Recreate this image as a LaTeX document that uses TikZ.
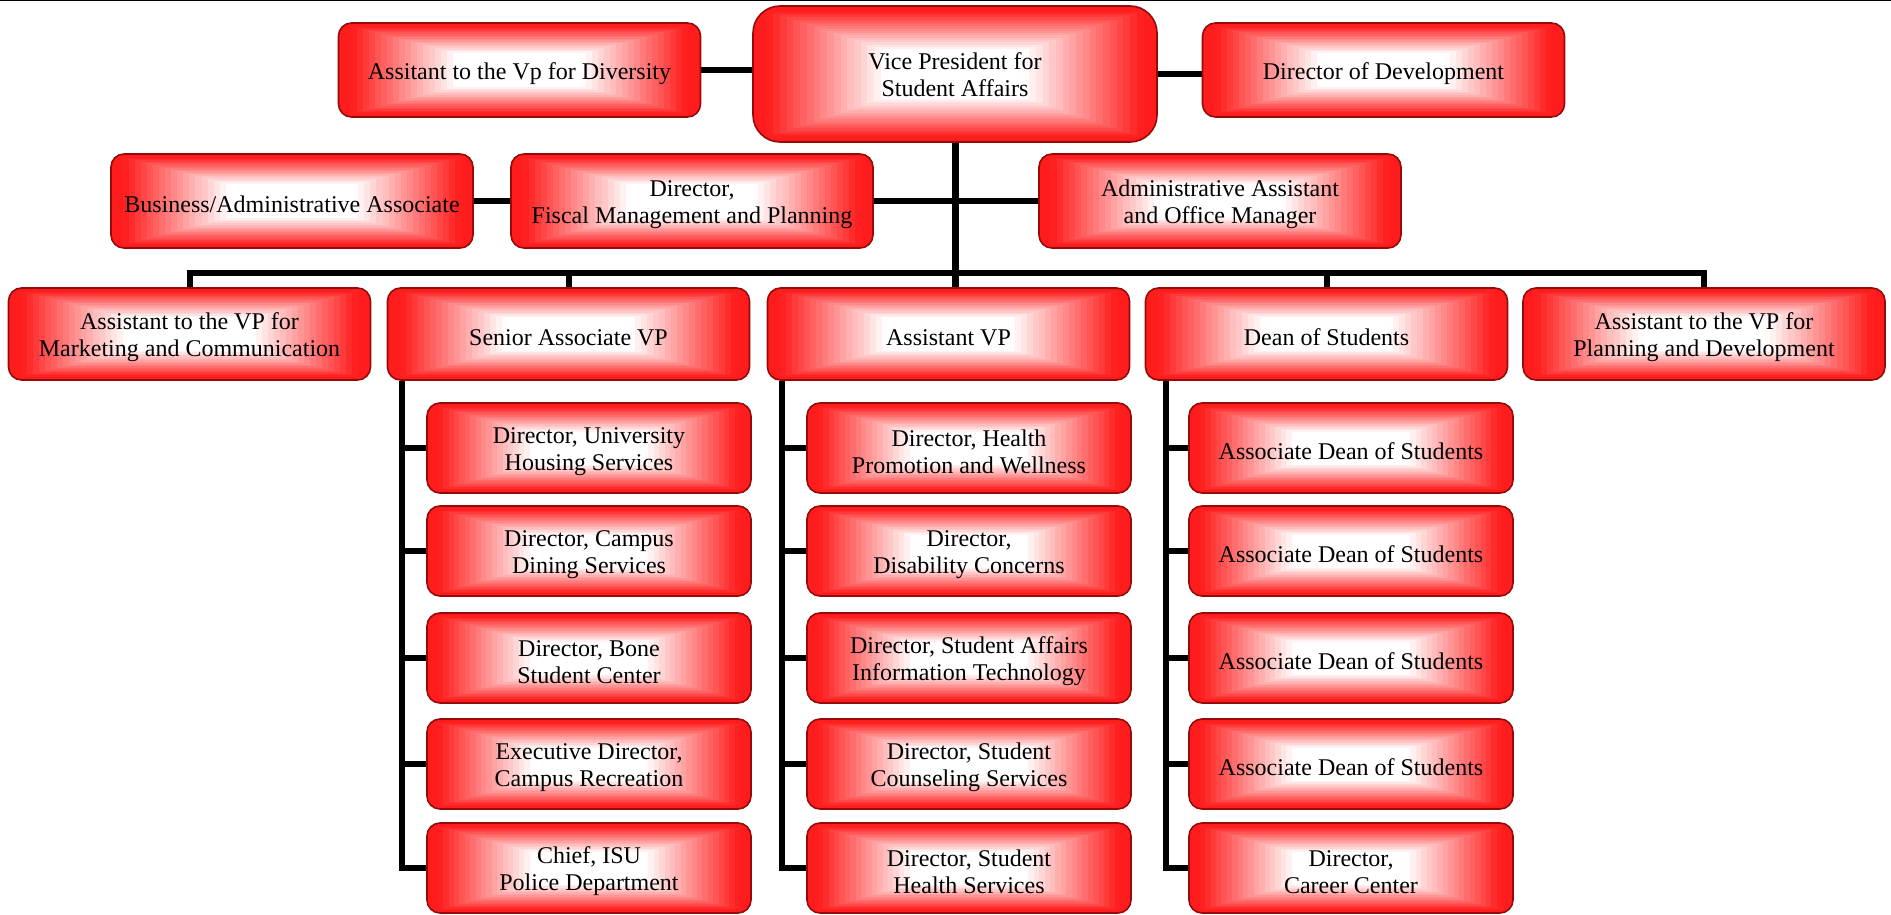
\documentclass[tikz,border=0pt]{standalone}
\usepackage{fontspec}
\setmainfont{Liberation Serif}
\usetikzlibrary{calc,backgrounds}
\definecolor{boxred}{RGB}{255,28,28}
\definecolor{boxborder}{RGB}{150,10,10}
\newcommand\orgshade{%
  \foreach \i in {0,...,29}{%
    \pgfmathtruncatemacro\redpct{100*max(0,min(1,((1-\i/30)-0.36)/0.58))}%
    \fill[boxred!\redpct!white, sharp corners] ($(path picture bounding box.south west)!\i/60!(path picture bounding box.north east)$) rectangle ($(path picture bounding box.north east)!\i/60!(path picture bounding box.south west)$);%
  }}
\tikzset{
  orgbox/.style={rounded corners=13pt, draw=boxborder, line width=1.6pt,
    minimum width=362pt, minimum height=94pt, inner sep=0pt, align=center,
    font=\fontsize{24}{27}\selectfont, path picture={\orgshade},
    execute at begin node={\rule{0pt}{24pt}}},
  ml/.style={execute at begin node={\rule{0pt}{51pt}}},
  rowbox/.style={orgbox, minimum height=92pt},
  childbox/.style={orgbox, minimum width=324pt, minimum height=90pt},
  conn/.style={line width=6pt, black, line join=miter}
}
\begin{document}
\begin{tikzpicture}[x=1pt, y=-1pt]
\useasboundingbox (0,0) rectangle (1891,915);
\draw[line width=1.5pt] (0,0.75) -- (1891,0.75);
% top row
\node[orgbox, minimum width=404pt, minimum height=136pt, rounded corners=27pt, execute at begin node={\rule{0pt}{46pt}}] (vp) at (955,74) {Vice President for\\Student Affairs};
\node[orgbox] (div) at (519.5,70) {Assitant to the Vp for Diversity};
\node[orgbox] (dev) at (1383.5,70) {Director of Development};
% second row
\node[orgbox] (bus) at (292,201) {Business/Administrative Associate};
\node[orgbox, ml] (fis) at (692,201) {Director,\\Fiscal Management and Planning};
\node[orgbox, ml] (adm) at (1220,201) {Administrative Assistant\\and Office Manager};
% third row
\node[rowbox, ml] (mkt) at (189.5,334) {Assistant to the VP for\\Marketing and Communication};
\node[rowbox] (sen) at (568.5,334) {Senior Associate VP};
\node[rowbox] (avp) at (948.5,334) {Assistant VP};
\node[rowbox] (dean) at (1326.5,334) {Dean of Students};
\node[rowbox, ml] (pln) at (1704,334) {Assistant to the VP for\\Planning and Development};
% senior column
\node[childbox, ml] (s1) at (589,448) {Director, University\\Housing Services};
\node[childbox, ml] (s2) at (589,551) {Director, Campus\\Dining Services};
\node[childbox, ml] (s3) at (589,658) {Director, Bone\\Student Center};
\node[childbox, ml] (s4) at (589,764) {Executive Director,\\Campus Recreation};
\node[childbox, ml] (s5) at (589,868) {Chief, ISU\\Police Department};
% assistant VP column
\node[childbox, ml] (a1) at (969,448) {Director, Health\\Promotion and Wellness};
\node[childbox, ml] (a2) at (969,551) {Director,\\Disability Concerns};
\node[childbox, ml] (a3) at (969,658) {Director, Student Affairs\\Information Technology};
\node[childbox, ml] (a4) at (969,764) {Director, Student\\Counseling Services};
\node[childbox, ml] (a5) at (969,868) {Director, Student\\Health Services};
% dean column
\node[childbox] (d1) at (1351,448) {Associate Dean of Students};
\node[childbox] (d2) at (1351,551) {Associate Dean of Students};
\node[childbox] (d3) at (1351,658) {Associate Dean of Students};
\node[childbox] (d4) at (1351,764) {Associate Dean of Students};
\node[childbox, ml] (d5) at (1351,868) {Director,\\Career Center};
% helper coordinates
\coordinate (busy) at (0,273);
\coordinate (sv) at ($(sen.south west)+(15,0)$);
\coordinate (av) at ($(avp.south west)+(15,0)$);
\coordinate (dv) at ($(dean.south west)+(21,0)$);
\begin{scope}[on background layer]
\draw[conn] (div.east) -- (div.east -| vp.west);
\draw[conn] (vp.east) -- (vp.east -| dev.west);
\draw[conn, line width=7pt] (vp.south) -- (vp.south |- avp.north);
\draw[conn] (bus.east) -- (fis.west);
\draw[conn] (fis.east) -- (fis.east -| vp.south);
\draw[conn] (adm.west) -- (adm.west -| vp.south);
\draw[conn] (mkt.north) -- (mkt.north |- busy) -- (pln.north |- busy) -- (pln.north);
\draw[conn] (sen.north) -- (sen.north |- busy);
\draw[conn] (dean.north) -- (dean.north |- busy);
\draw[conn] (sv) |- (s5.west);
\foreach \n in {s1,s2,s3,s4} \draw[conn] (sv |- \n.west) -- (\n.west);
\draw[conn] (av) |- (a5.west);
\foreach \n in {a1,a2,a3,a4} \draw[conn] (av |- \n.west) -- (\n.west);
\draw[conn] (dv) |- (d5.west);
\foreach \n in {d1,d2,d3,d4} \draw[conn] (dv |- \n.west) -- (\n.west);
\end{scope}
\end{tikzpicture}
\end{document}
